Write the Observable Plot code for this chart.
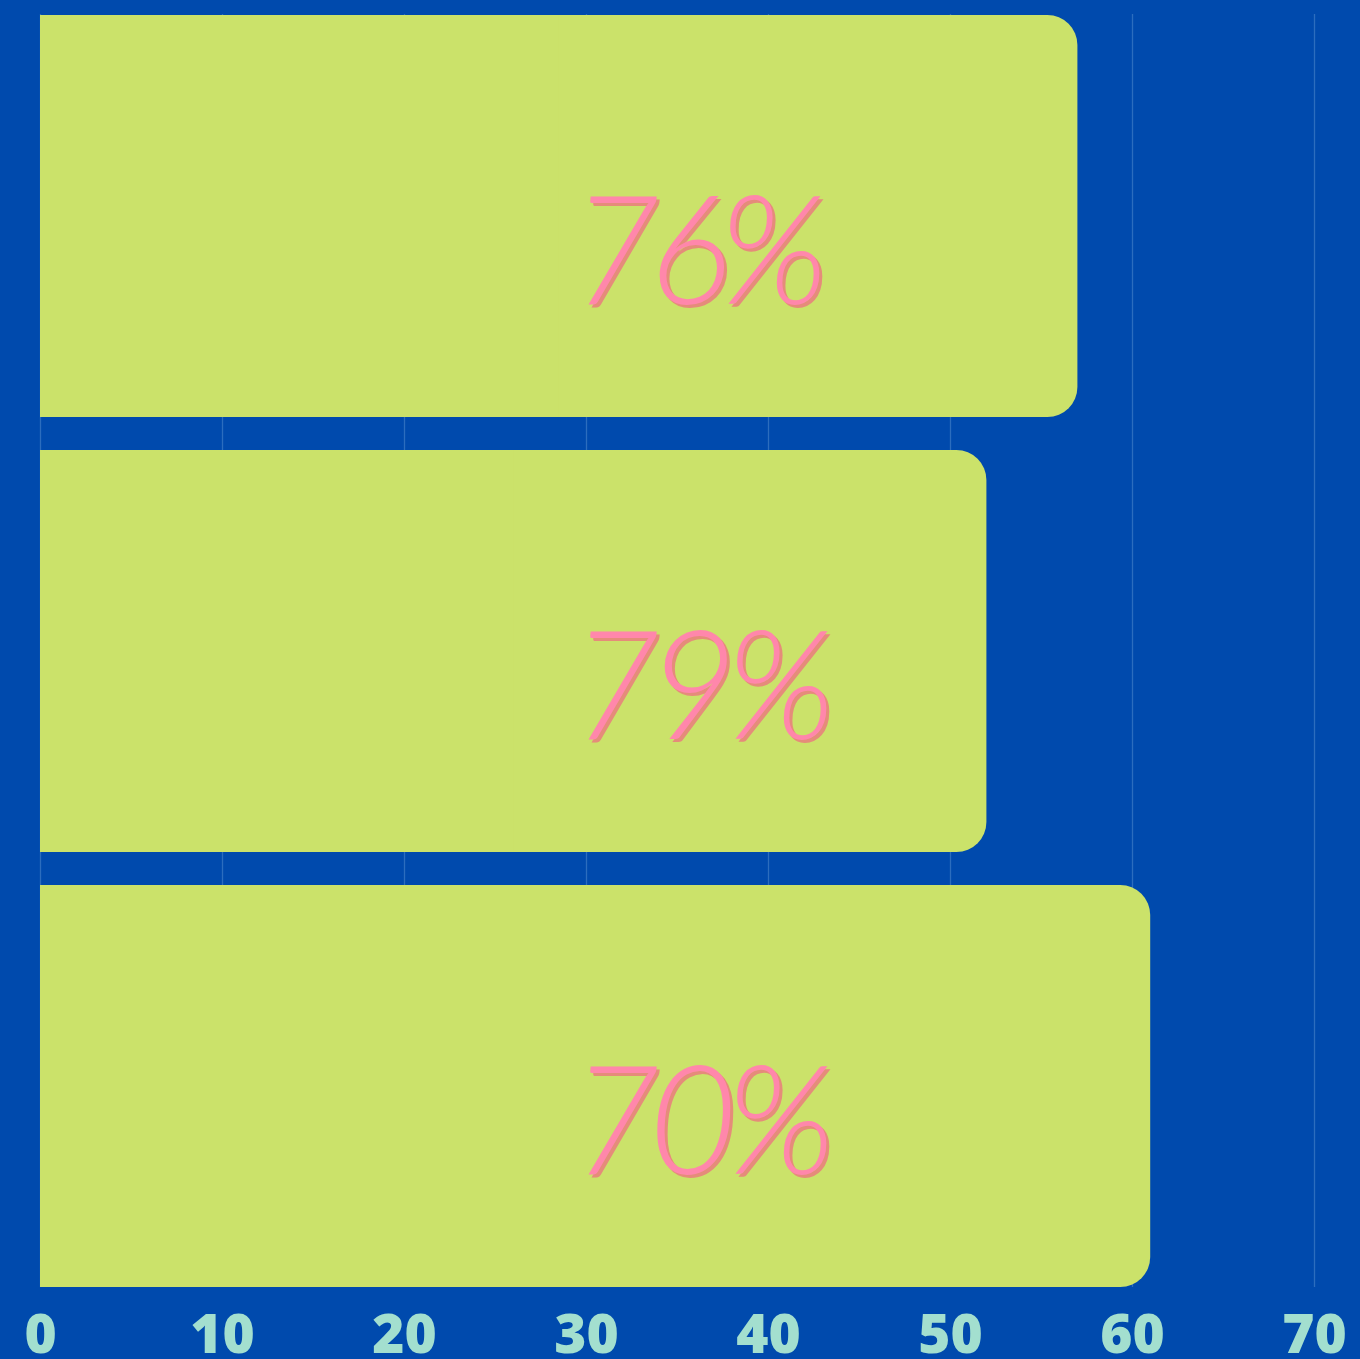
<!DOCTYPE html>
<html>
<head>
<meta charset="utf-8">
<script src="https://cdn.jsdelivr.net/npm/d3@7"></script>
<script src="https://cdn.jsdelivr.net/npm/@observablehq/plot@0.6"></script>
<style>
  html, body { margin: 0; padding: 0; background: #004AAD; }
  #chart svg { display: block; }
  #chart g[aria-label="text"] text { letter-spacing: -11px; }
</style>
</head>
<body>
<div id="chart"></div>
<script>
const categories = ["A", "B", "C"];
const values = [57, 52, 61];
const labels = ["76%", "79%", "70%"];
const labelAt = [30, 30, 30];
const ticks = [0, 10, 20, 30, 40, 50, 60, 70];

const data = categories.map((c, i) => ({cat: c, value: values[i], label: labels[i], lx: labelAt[i]}));

const chart = Plot.plot({
  width: 1360,
  height: 1359,
  marginLeft: 40,
  marginRight: 46,
  marginTop: 14,
  marginBottom: 72,
  style: {background: "#004AAD", overflow: "visible"},
  x: {domain: [0, 70], ticks: ticks, label: null},
  y: {domain: categories, paddingInner: 0.077, paddingOuter: 0, axis: null},
  marks: [
    Plot.gridX(ticks, {stroke: "#3E7CC4", strokeOpacity: 0.7, strokeWidth: 1.3}),
    Plot.axisX({
      ticks: ticks, tickSize: 0, tickPadding: 26, label: null,
      fill: "#A3DFCF", fontSize: 55, fontWeight: 800,
      fontFamily: "'Open Sans', sans-serif", tickFormat: d => String(d)
    }),
    Plot.barX(data, {y: "cat", x1: 0, x2: "value", fill: "#CBE26A", rx: 30}),
    Plot.barX(data, {y: "cat", x1: 0, x2: d => d.value / 2, fill: "#CBE26A"}),
    Plot.text(data, {
      y: "cat", x: "lx", text: "label", textAnchor: "start",
      dx: -12, dy: 42, fill: "#E58C7A", fontSize: 152, fontStyle: "italic",
      fontWeight: 300, fontFamily: "Lato, sans-serif"
    }),
    Plot.text(data, {
      y: "cat", x: "lx", text: "label", textAnchor: "start",
      dx: -15, dy: 39, fill: "#FF87AB", fontSize: 152, fontStyle: "italic",
      fontWeight: 300, fontFamily: "Lato, sans-serif"
    })
  ]
});
document.getElementById("chart").appendChild(chart);
</script>
</body>
</html>
